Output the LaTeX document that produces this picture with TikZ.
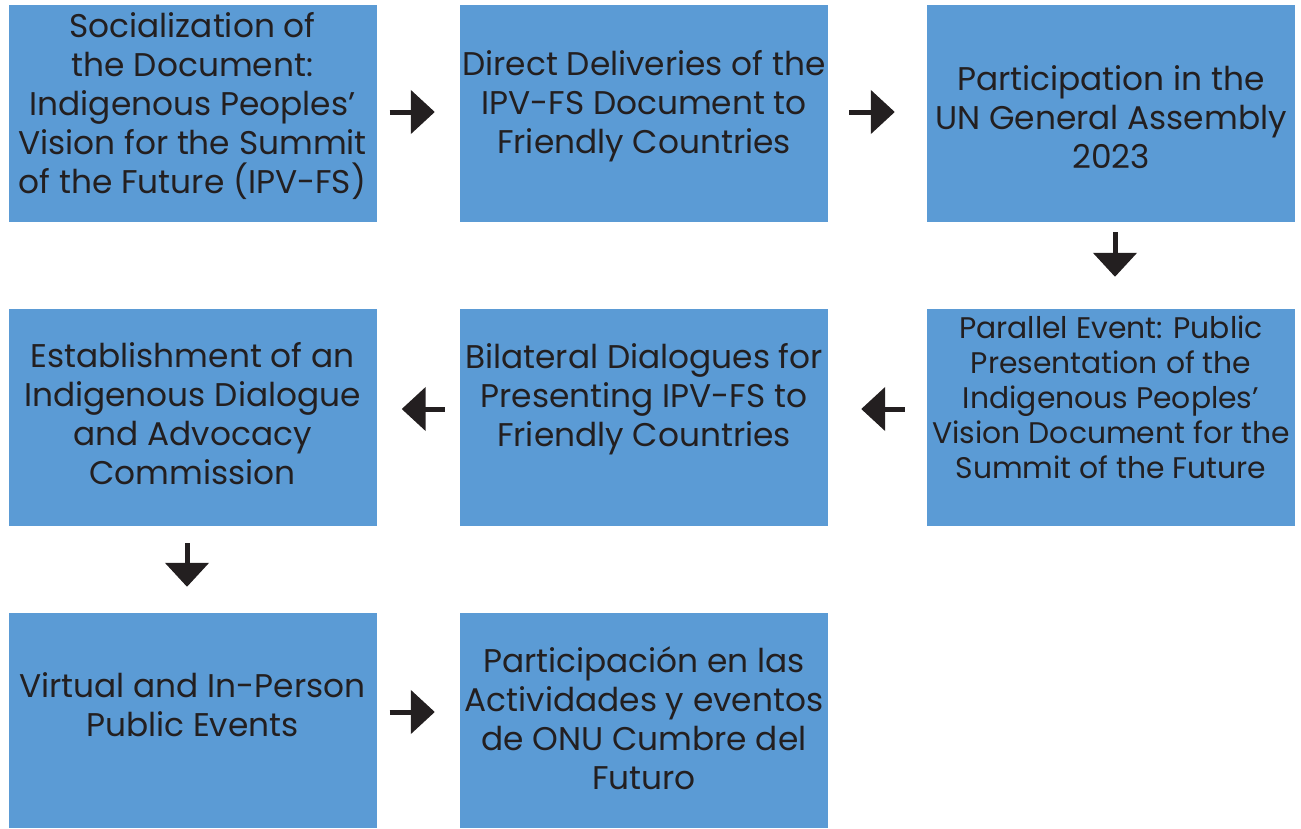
\documentclass[tikz,border=0pt]{standalone}
\usepackage{fontspec}
\setmainfont{Poppins}
\usetikzlibrary{arrows.meta}

\definecolor{boxblue}{RGB}{91,155,213}
\definecolor{ink}{RGB}{35,31,32}

\tikzset{
  stage/.style={fill=boxblue, draw=none, inner sep=0pt, minimum width=368pt, minimum height=217pt},
  stagetext/.style={text=ink, align=center, font=\fontsize{32.8}{39}\selectfont, inner sep=0pt},
  flow/.style={draw=ink, line width=5pt, -{Triangle[length=24pt,width=43pt]}}
}

\begin{document}
\begin{tikzpicture}[x=1pt, y=-1pt]
\useasboundingbox (0,0) rectangle (1301,828);

% row 1
\node[stage] (soc) at (192.5,113.5) {};
\node[stagetext] (socT) at (192.5,106) {Socialization of\\the Document:\\Indigenous Peoples'\\Vision for the Summit\\of the Future (IPV-FS)};
\node[stage] (dir) at (644,113.5) {};
\node[stagetext] (dirT) at (644,106) {Direct Deliveries of the\\IPV-FS Document to\\Friendly Countries};
\node[stage] (una) at (1111,113.5) {};
\node[stagetext] (unaT) at (1111,117) {Participation in the\\UN General Assembly\\2023};

% row 2
\node[stage] (est) at (192.5,417.5) {};
\node[stagetext] (estT) at (192.5,414) {Establishment of an\\Indigenous Dialogue\\and Advocacy\\Commission};
\node[stage] (bil) at (644,417.5) {};
\node[stagetext] (bilT) at (644,399) {Bilateral Dialogues for\\Presenting IPV-FS to\\Friendly Countries};
\node[stage] (par) at (1111,417.5) {};
\node[stagetext, font=\fontsize{29.8}{35}\selectfont] (parT) at (1111,397) {Parallel Event: Public\\Presentation of the\\Indigenous Peoples'\\Vision Document for the\\Summit of the Future};

% row 3
\node[stage, minimum height=215pt] (vir) at (192.5,720.5) {};
\node[stagetext] (virT) at (192.5,705) {Virtual and In-Person\\Public Events};
\node[stage, minimum height=215pt] (cum) at (644,720.5) {};
\node[stagetext] (cumT) at (644,718) {Participación en las\\Actividades y eventos\\de ONU Cumbre del\\Futuro};

% arrows
\draw[flow, shorten <=13pt, shorten >=25pt] ([yshift=1.5pt]soc.east) -- ([yshift=1.5pt]dir.west);
\draw[flow, shorten <=21pt, shorten >=32pt] ([yshift=1.5pt]dir.east) -- ([yshift=1.5pt]una.west);
\draw[flow, shorten <=10pt, shorten >=32pt] ([xshift=4pt]una.south) -- ([xshift=4pt]par.north);
\draw[flow, shorten <=22pt, shorten >=33pt] ([yshift=8.5pt]par.west) -- ([yshift=8.5pt]bil.east);
\draw[flow, shorten <=15pt, shorten >=25pt] ([yshift=8.5pt]bil.west) -- ([yshift=8.5pt]est.east);
\draw[flow, shorten <=17pt, shorten >=26pt] ([xshift=-5.5pt]est.south) -- ([xshift=-5.5pt]vir.north);
\draw[flow, shorten <=13pt, shorten >=25pt] ([yshift=8.5pt]vir.east) -- ([yshift=8.5pt]cum.west);
\end{tikzpicture}
\end{document}
